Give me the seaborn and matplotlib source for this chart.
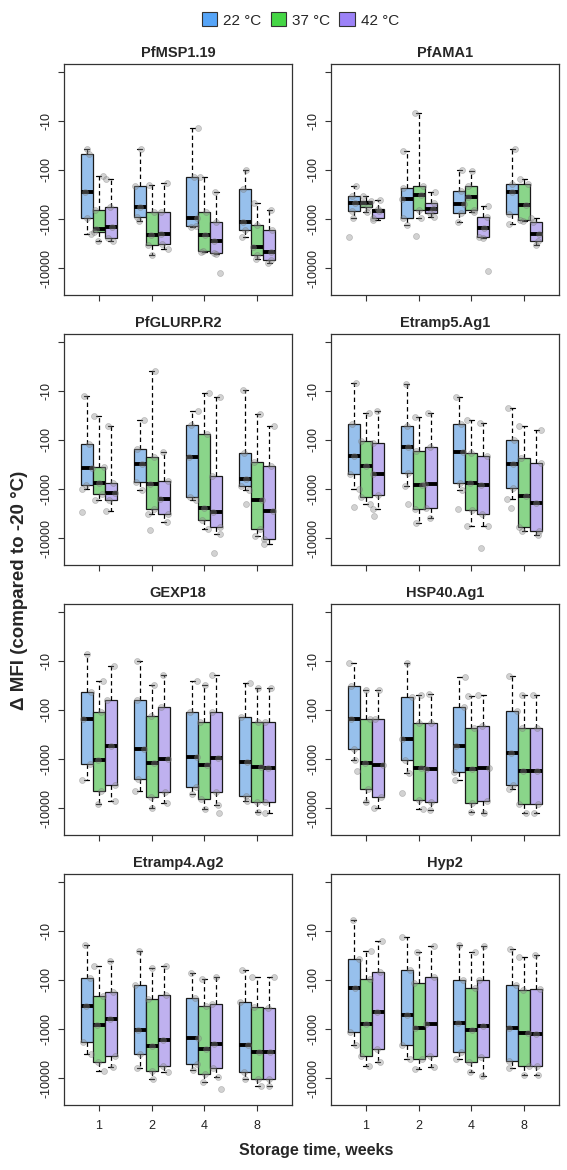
import numpy as np
import pandas as pd
import matplotlib
matplotlib.use('Agg')
import matplotlib.pyplot as plt
import seaborn as sns
from matplotlib.patches import Patch

# ── Data ─────────────────────────────────────────────────────────────────────
weeks = ['1', '2', '4', '8']
temps = ['22 °C', '37 °C', '42 °C']
antigens = ['PfMSP1.19', 'PfAMA1', 'PfGLURP.R2', 'Etramp5.Ag1',
            'GEXP18', 'HSP40.Ag1', 'Etramp4.Ag2', 'Hyp2']
ytick_vals = [0, 1, 2, 3, 4]
ytick_labels = ['', '-10', '-100', '-1000', '-10000']

# log10 |ΔMFI| per box: whisker top, box top, median, box bottom, whisker bottom
# rows: week 1, 2, 4, 8 x (22, 37, 42 °C)
pfmsp1_19 = [
    [1.57, 1.68, 2.46, 2.99, 3.31], [2.12, 2.81, 3.21, 3.26, 3.45], [2.19, 2.75, 3.16, 3.38, 3.45],
    [1.58, 2.33, 2.75, 2.96, 3.04], [2.31, 2.85, 3.32, 3.54, 3.74], [2.27, 2.85, 3.30, 3.50, 3.62],
    [1.15, 2.14, 2.97, 3.15, 3.17], [2.15, 2.85, 3.33, 3.65, 3.67], [2.44, 3.06, 3.45, 3.69, 3.72],
    [2.01, 2.38, 3.06, 3.22, 3.37], [2.68, 3.13, 3.57, 3.74, 3.81], [2.81, 3.23, 3.67, 3.84, 3.89],
]
pfama1 = [
    [2.33, 2.53, 2.67, 2.84, 2.99], [2.53, 2.63, 2.68, 2.76, 2.85], [2.61, 2.80, 2.83, 2.97, 3.02],
    [1.61, 2.36, 2.59, 2.97, 3.13], [0.84, 2.32, 2.51, 2.81, 2.99], [2.46, 2.68, 2.79, 2.87, 2.96],
    [2.01, 2.42, 2.70, 2.87, 3.06], [2.03, 2.32, 2.55, 2.81, 2.85], [2.74, 2.96, 3.18, 3.37, 3.38],
    [1.57, 2.29, 2.46, 2.89, 3.11], [2.19, 2.29, 2.72, 3.02, 3.04], [2.97, 3.07, 3.30, 3.45, 3.54],
]
pfglurp_r2 = [
    [1.11, 2.09, 2.58, 2.91, 3.00], [1.52, 2.56, 2.88, 3.10, 3.23], [1.72, 2.88, 3.08, 3.23, 3.45],
    [1.59, 2.19, 2.49, 2.86, 3.02], [0.59, 2.35, 2.90, 3.40, 3.52], [2.24, 2.83, 3.21, 3.50, 3.67],
    [1.42, 1.70, 2.34, 3.17, 3.23], [1.05, 1.88, 3.38, 3.64, 3.81], [1.12, 2.73, 3.47, 3.77, 3.92],
    [0.99, 2.27, 2.80, 2.94, 3.02], [1.47, 2.44, 3.23, 3.81, 3.96], [1.72, 2.53, 3.45, 4.01, 4.13],
]
etramp5_ag1 = [
    [0.84, 1.67, 2.32, 2.69, 3.00], [1.45, 2.02, 2.54, 3.17, 3.31], [1.40, 2.07, 2.69, 3.13, 3.41],
    [0.85, 1.71, 2.14, 2.67, 2.93], [1.53, 2.22, 2.91, 3.40, 3.70], [1.45, 2.14, 2.89, 3.38, 3.59],
    [1.12, 1.68, 2.24, 2.87, 3.03], [1.60, 2.26, 2.87, 3.43, 3.75], [1.65, 2.32, 2.92, 3.51, 3.75],
    [1.35, 2.00, 2.49, 2.99, 3.21], [1.72, 2.36, 3.14, 3.78, 3.85], [1.80, 2.48, 3.28, 3.85, 3.93],
]
gexp18 = [
    [0.85, 1.63, 2.19, 3.11, 3.43], [1.41, 2.05, 3.02, 3.65, 3.92], [1.11, 1.80, 2.73, 3.53, 3.86],
    [1.00, 1.80, 2.80, 3.40, 3.65], [1.50, 2.12, 3.09, 3.77, 3.99], [1.28, 1.95, 3.00, 3.67, 3.90],
    [1.41, 2.04, 2.95, 3.57, 3.72], [1.50, 2.24, 3.12, 3.81, 4.01], [1.29, 2.04, 2.99, 3.67, 3.94],
    [1.46, 2.15, 3.07, 3.75, 3.86], [1.55, 2.25, 3.17, 3.88, 4.08], [1.55, 2.24, 3.18, 3.88, 4.11],
]
hsp40_ag1 = [
    [1.04, 1.52, 2.18, 2.80, 3.02], [1.60, 2.18, 3.08, 3.62, 3.88], [1.60, 2.19, 3.12, 3.77, 3.99],
    [1.04, 1.74, 2.60, 3.02, 3.28], [1.70, 2.27, 3.19, 3.84, 4.01], [1.67, 2.26, 3.21, 3.88, 4.05],
    [1.33, 1.93, 2.73, 3.26, 3.42], [1.72, 2.36, 3.21, 3.89, 4.08], [1.70, 2.32, 3.19, 3.86, 4.11],
    [1.31, 2.02, 2.87, 3.53, 3.62], [1.70, 2.36, 3.24, 3.92, 4.11], [1.70, 2.36, 3.24, 3.92, 4.11],
]
etramp4_ag2 = [
    [1.28, 1.96, 2.53, 3.26, 3.51], [1.72, 2.32, 2.92, 3.67, 3.86], [1.62, 2.24, 2.80, 3.55, 3.77],
    [1.41, 2.11, 3.03, 3.51, 3.79], [1.76, 2.39, 3.35, 3.86, 4.01], [1.71, 2.30, 3.23, 3.76, 3.88],
    [1.85, 2.37, 3.18, 3.72, 3.83], [1.98, 2.54, 3.40, 3.91, 4.08], [1.94, 2.49, 3.31, 3.79, 3.98],
    [1.80, 2.44, 3.33, 3.88, 4.01], [1.94, 2.56, 3.47, 4.01, 4.17], [1.94, 2.58, 3.47, 4.01, 4.17],
]
hyp2 = [
    [0.78, 1.57, 2.17, 3.06, 3.33], [1.41, 1.99, 2.90, 3.55, 3.76], [1.21, 1.84, 2.65, 3.41, 3.67],
    [1.12, 1.80, 2.71, 3.32, 3.62], [1.44, 2.07, 2.99, 3.62, 3.81], [1.30, 1.94, 2.90, 3.55, 3.77],
    [1.28, 2.01, 2.87, 3.47, 3.62], [1.44, 2.17, 3.02, 3.67, 3.88], [1.30, 2.01, 2.93, 3.57, 3.96],
    [1.37, 2.10, 2.99, 3.66, 3.79], [1.53, 2.20, 3.09, 3.76, 3.94], [1.50, 2.19, 3.10, 3.76, 3.94],
]

# extra points outside the whiskers: (week, temperature, log10 |ΔMFI|)
outliers = {
    'PfMSP1.19': [('4', '42 °C', 4.10)],
    'PfAMA1': [('1', '22 °C', 3.37), ('2', '37 °C', 3.35), ('4', '42 °C', 4.06)],
    'PfGLURP.R2': [('1', '22 °C', 3.47), ('2', '37 °C', 3.84), ('4', '42 °C', 4.30),
                   ('8', '22 °C', 3.30)],
    'Etramp5.Ag1': [('1', '22 °C', 3.37), ('1', '42 °C', 3.56), ('2', '22 °C', 3.30),
                    ('4', '22 °C', 3.40), ('4', '42 °C', 4.21), ('8', '22 °C', 3.38)],
    'GEXP18': [('4', '42 °C', 4.11)],
    'HSP40.Ag1': [('1', '22 °C', 3.24), ('2', '22 °C', 3.70)],
    'Etramp4.Ag2': [('4', '42 °C', 4.22)],
    'Hyp2': [],
}

stats = {
    'PfMSP1.19': pfmsp1_19, 'PfAMA1': pfama1, 'PfGLURP.R2': pfglurp_r2,
    'Etramp5.Ag1': etramp5_ag1, 'GEXP18': gexp18, 'HSP40.Ag1': hsp40_ag1,
    'Etramp4.Ag2': etramp4_ag2, 'Hyp2': hyp2,
}

BOX_W = 0.68  # total width of the three boxes in one week group

# ── Long tables ──────────────────────────────────────────────────────────────
box_rows = []
for ag in antigens:
    for i, five in enumerate(stats[ag]):
        for v in five:
            box_rows.append({'antigen': ag, 'week': weeks[i // 3],
                             'temp': temps[i % 3], 'level': v})
df_box = pd.DataFrame(box_rows)
df_pts = pd.concat([
    df_box,
    pd.DataFrame([{'antigen': ag, 'week': w, 'temp': t, 'level': v}
                  for ag in antigens for (w, t, v) in outliers[ag]]),
], ignore_index=True)
# dodged position of each point so it sits on its box
df_pts['xpos'] = (df_pts['week'].map({w: i for i, w in enumerate(weeks)})
                  + (df_pts['temp'].map({t: i for i, t in enumerate(temps)}) - 1)
                  * BOX_W / len(temps))

# ── Style ────────────────────────────────────────────────────────────────────
sns.set_style('white')
plt.rcParams['font.family'] = ['Liberation Sans', 'DejaVu Sans']

legend_colors = ['#56A5F8', '#45D645', '#9C82F7']
box_colors = ['#89C0FA', '#7DE27D', '#BAA7F9']
FW, FH = 567, 1170

fig = plt.figure(figsize=(FW / 100, FH / 100), dpi=100)

col_left = [64, 331]
row_top = [64, 334, 604, 874]
pw, ph = 228, 231

np.random.seed(3)
for k, ag in enumerate(antigens):
    r, c = divmod(k, 2)
    x0, y0 = col_left[c], row_top[r]
    ax = fig.add_axes([x0 / FW, 1 - (y0 + ph) / FH, pw / FW, ph / FH])

    sub_box = df_box[df_box['antigen'] == ag]
    sub_pts = df_pts[df_pts['antigen'] == ag]

    sns.boxplot(data=sub_box, x='week', y='level', hue='temp',
                order=weeks, hue_order=temps, palette=box_colors,
                width=BOX_W, gap=0, whis=(0, 100), showfliers=False,
                linecolor='#1a1a1a', linewidth=0.9, legend=False, ax=ax,
                medianprops=dict(color='black', linewidth=2.8),
                whiskerprops=dict(color='black', linestyle=(0, (3.5, 2.5))),
                capprops=dict(color='black'), capwidths=0.09)
    sns.stripplot(data=sub_pts, x='xpos', y='level', native_scale=True,
                  color='#8f8f8f', jitter=0.45,
                  size=4.3, alpha=0.4, linewidth=0.5, edgecolor='#6f6f6f',
                  legend=False, ax=ax)

    ax.set_xlim(-0.66, 3.66)
    ax.set_ylim(4.55, -0.16)
    ax.set_yticks(ytick_vals)
    ax.set_yticklabels(ytick_labels, rotation=90, va='center')
    ax.set_xticks(range(len(weeks)))
    ax.set_xticklabels(weeks if r == 3 else [''] * len(weeks))
    ax.tick_params(axis='both', direction='out', length=4, width=0.8,
                   color='#333333', labelsize=9, labelcolor='#222222',
                   left=True, bottom=True)
    ax.tick_params(axis='y', pad=4)
    ax.tick_params(axis='x', pad=7)
    ax.set_xlabel('')
    ax.set_ylabel('')
    for s in ax.spines.values():
        s.set_visible(True)
        s.set_color('#333333')
        s.set_linewidth(0.9)
    ax.set_title(ag, fontsize=10.5, fontweight='bold', pad=5)

# legend, axis labels
handles = [Patch(facecolor=col, edgecolor='#333333', linewidth=0.8, label=t)
           for col, t in zip(legend_colors, temps)]
fig.legend(handles=handles, loc='center', bbox_to_anchor=(0.53, 1 - 20 / FH),
           ncol=3, frameon=False, fontsize=11, handlelength=1.0, handleheight=1.0,
           handletextpad=0.4, columnspacing=0.6)
fig.text(20 / FW, 1 - 590 / FH, 'Δ MFI (compared to -20 °C)', rotation=90,
         ha='center', va='center', fontsize=13.5, fontweight='bold')
fig.text(316 / FW, 1 - 1150 / FH, 'Storage time, weeks',
         ha='center', va='center', fontsize=11.5, fontweight='bold')

fig.savefig('out.png', dpi=100)
